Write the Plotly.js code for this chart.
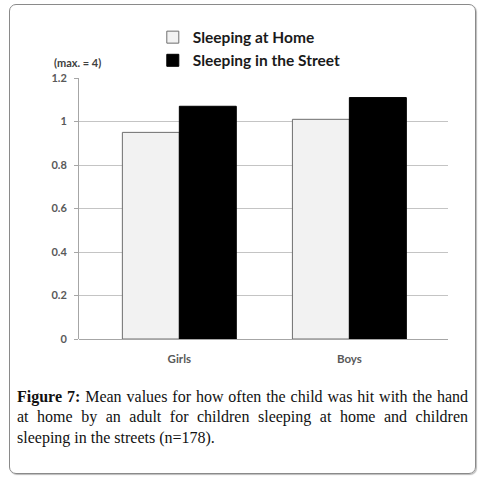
<!DOCTYPE html>
<html>
<head>
<meta charset="utf-8">
<script src="https://cdn.plot.ly/plotly-3.0.1.min.js"></script>
<style>
  body { margin: 0; background: #fff; }
  #wrap { position: relative; width: 486px; height: 483px; }
  #frame {
    position: absolute; left: 9px; top: 4px; width: 465px; height: 468px;
    border: 1px solid #8a8a8a; border-radius: 7px; box-shadow: 1px 1px 1px #bbb;
  }
  #chart { position: absolute; left: 0; top: 0; width: 486px; height: 483px; }
  #caption {
    position: absolute; left: 17px; top: 387px; width: 451px;
    font-family: 'Liberation Serif', serif; font-size: 16px; line-height: 20.3px; color: #111;
  }
  #caption span { display: block; text-align: justify; text-align-last: justify; }
  #caption span.last { text-align-last: left; }
</style>
</head>
<body>
<div id="wrap">
  <div id="frame"></div>
  <div id="chart"></div>
  <div id="caption">
    <span><b>Figure 7:</b> Mean values for how often the child was hit with the hand</span>
    <span>at home by an adult for children sleeping at home and children</span>
    <span class="last">sleeping in the streets (n=178).</span>
  </div>
</div>
<script>
// values
var categories = ['Girls', 'Boys'];
var sleeping_home = [0.95, 1.01];
var sleeping_street = [1.07, 1.11];
var y_ticks = [0, 0.2, 0.4, 0.6, 0.8, 1, 1.2];
var y_tick_labels = ['0', '0.2', '0.4', '0.6', '0.8', '1', '1.2'];

const config = { responsive: false, displayModeBar: false, staticPlot: true };

var chart_data = [
  {
    x: categories,
    y: sleeping_home,
    name: 'Sleeping at Home',
    type: 'bar',
    marker: {
      color: '#f2f2f2',
      line: { color: '#6e6e6e', width: 1 },
    },
  },
  {
    x: categories,
    y: sleeping_street,
    name: 'Sleeping in the Street',
    type: 'bar',
    marker: {
      color: '#000000',
      line: { color: '#000000', width: 1 },
    },
  },
];

var chart_layout = {
  width: 486,
  height: 483,
  margin: { l: 79, r: 38, t: 78, b: 144 },
  paper_bgcolor: 'rgba(0,0,0,0)',
  plot_bgcolor: '#ffffff',
  barmode: 'group',
  bargap: 0.33,
  bargroupgap: 0,
  font: { family: 'Lato, sans-serif', color: '#595959' },
  xaxis: {
    type: 'category',
    range: [-0.59, 1.58],
    showline: false,
    showgrid: false,
    ticks: '',
    ticklabelstandoff: 11,
    tickfont: { size: 11.5, weight: 'bold', color: '#595959' },
  },
  yaxis: {
    range: [0, 1.2],
    tickvals: y_ticks,
    ticktext: y_tick_labels,
    showline: true,
    linecolor: '#a6a6a6',
    linewidth: 1,
    ticks: 'outside',
    ticklen: 4,
    tickcolor: '#a6a6a6',
    ticklabelstandoff: 5,
    gridcolor: '#c4c4c4',
    gridwidth: 1,
    zeroline: true,
    zerolinecolor: '#a6a6a6',
    zerolinewidth: 1,
    tickfont: { size: 11, weight: 'bold', color: '#595959' },
  },
  showlegend: true,
  legend: {
    x: 0.2,
    xanchor: 'left',
    y: 1.22,
    yanchor: 'top',
    bgcolor: 'rgba(0,0,0,0)',
    font: { family: 'Lato, sans-serif', size: 15.5, color: '#1a1a1a', weight: 'bold' },
    traceorder: 'normal',
    itemwidth: 30,
  },
  annotations: [
    {
      text: '(max. = 4)',
      xref: 'paper',
      yref: 'paper',
      x: -0.072,
      y: 1.06,
      xanchor: 'left',
      yanchor: 'middle',
      showarrow: false,
      font: { family: 'Lato, sans-serif', size: 11, color: '#404040', weight: 'bold' },
    },
  ],
};

Plotly.newPlot('chart', chart_data, chart_layout, config);
</script>
</body>
</html>
